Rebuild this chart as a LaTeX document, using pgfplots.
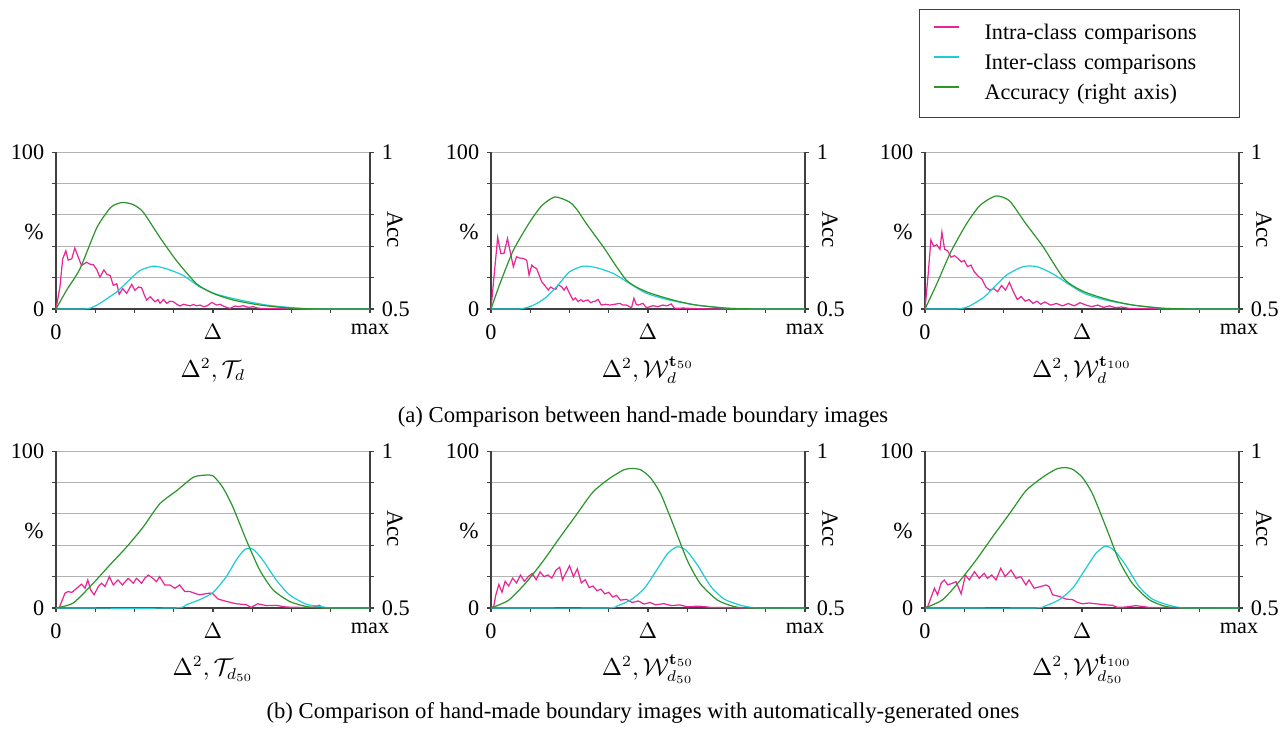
\documentclass[border=0pt]{standalone}
\usepackage[no-math]{fontspec}
\setmainfont{Liberation Serif}
\usepackage{amsmath}
\usepackage{pgfplots}
\pgfplotsset{compat=1.18}

\definecolor{intrac}{RGB}{232,38,150}
\definecolor{interc}{RGB}{32,204,212}
\definecolor{accc}{RGB}{44,150,44}

\pgfplotsset{
  panel/.style={scale only axis, width=141.3pt, height=70.6pt,
    xmin=0, xmax=8, xtick={0,1,2,3,4,5,6,7,8}, clip=false,
    tick align=outside, major tick length=1.8pt,
    axis line style={black!75, line width=0.5pt},
    tick style={black!75, line width=0.5pt},
    tick label style={font=\fontsize{10}{12}\selectfont},
    xticklabel style={yshift=-1.6pt},
    anchor=south west},
  lft/.style={panel, ymin=0, ymax=100, ytick={0,20,40,60,80,100},
    yticklabels={0,,,,,100}, xticklabels={0,,,,$\Delta$,,,,max},
    axis x line*=bottom, axis y line*=left,
    ymajorgrids, grid style={black!30, line width=0.5pt}},
  rgt/.style={panel, ymin=0.5, ymax=1, ytick={0.5,0.6,0.7,0.8,0.9,1},
    yticklabels={0.5,,,,,1}, axis x line=none, axis y line*=right},
  pk/.style={color=intrac, line width=0.55pt},
  cy/.style={color=interc, line width=0.55pt, smooth, tension=0.4},
  gr/.style={color=accc, line width=0.55pt, smooth, tension=0.4},
}
\newcommand{\pct}{\node at (axis description cs:0,0.49) [xshift=-9.9pt] {\fontsize{10.4}{12}\selectfont\%};}
\newcommand{\acc}{\node at (axis description cs:1,0.506) [xshift=11.25pt, rotate=-90] {\fontsize{10.4}{12}\selectfont Acc};}
\newcommand{\sub}[1]{\node at (axis description cs:0.5,0) [yshift=-27.5pt] {\fontsize{10.5}{12}\selectfont #1};}

\begin{document}
\begin{tikzpicture}
\useasboundingbox (0pt,0pt) rectangle (577.35pt,328.95pt);

% ---------- row (a) ----------
\begin{axis}[lft, at={(25.2pt,189.9pt)}]
\addplot[pk] coordinates {(0,0)(0.1,14)(0.17,31.9)(0.25,37.1)(0.31,31.2)(0.4,31.9)(0.48,38.8)(0.57,32.9)(0.65,27.7)(0.78,29.8)(0.87,28.5)(0.95,28.3)(1.04,25)(1.12,20.3)(1.22,24.9)(1.3,22)(1.38,21.4)(1.46,15.1)(1.55,16.1)(1.61,9.4)(1.7,13)(1.8,9.9)(1.93,15.7)(2.01,11.9)(2.1,14)(2.18,13.6)(2.25,9)(2.31,5.7)(2.4,7.8)(2.52,4.6)(2.6,6)(2.65,3.6)(2.74,6.1)(2.82,3.6)(2.9,5)(2.99,4.6)(3.08,3)(3.16,1.9)(3.25,3)(3.33,2.5)(3.42,2)(3.5,2.9)(3.58,2)(3.67,2.5)(3.76,1.5)(3.84,1.9)(3.97,4.2)(4.09,2.5)(4.18,3)(4.26,1.9)(4.35,1)(4.43,0.4)(4.56,1.9)(4.65,1.5)(4.77,2.1)(4.9,1)(5.03,1.5)(5.1,0.8)(5.2,0.4)(5.54,0.4)(5.8,0.2)(6.2,0)(8,0)};
\addplot[cy] coordinates {(0,0)(0.7,0)(0.9,0.8)(1.12,3.6)(1.35,7.5)(1.55,10.9)(1.85,18)(2.14,24.5)(2.48,27.3)(2.82,25.6)(3.24,21.4)(3.67,14)(4.09,9.4)(4.69,5.7)(5.37,2.5)(6.05,0.8)(6.6,0)(8,0)};
\pct
\sub{$\Delta^2, \mathcal{T}_d$}
\end{axis}
\begin{axis}[rgt, at={(25.2pt,189.9pt)}]
\addplot[gr] coordinates {(0,0.5)(0.27,0.56)(0.61,0.628)(1.04,0.759)(1.38,0.822)(1.55,0.835)(1.72,0.8395)(1.97,0.8325)(2.22,0.809)(2.65,0.7275)(3.07,0.654)(3.58,0.5805)(4.01,0.5495)(4.52,0.5285)(5.2,0.5125)(6.05,0.502)(7,0.5)(8,0.5)};
\acc
\end{axis}

\begin{axis}[lft, at={(220.95pt,189.9pt)}]
\addplot[pk] coordinates {(0,0)(0.1,26.9)(0.17,45.6)(0.25,35.4)(0.33,35.4)(0.42,44.9)(0.48,37.5)(0.57,26.9)(0.65,33.3)(0.73,32.5)(0.82,32.2)(0.91,31.1)(0.97,21.6)(1.04,28)(1.1,26.5)(1.16,25.8)(1.22,22)(1.29,17.4)(1.37,15)(1.46,12.1)(1.52,14)(1.58,13.1)(1.65,12.5)(1.71,15.3)(1.8,14.2)(1.86,12)(1.92,14.2)(2.0,10)(2.09,5.7)(2.15,7)(2.22,4.7)(2.29,6)(2.35,4.7)(2.41,5.5)(2.47,5.7)(2.54,4)(2.6,4.7)(2.66,5)(2.73,6.1)(2.81,2.5)(2.92,3)(3.03,2.5)(3.15,3)(3.28,3.6)(3.36,2.5)(3.45,2.5)(3.58,0.8)(3.64,6.8)(3.7,3)(3.75,2.5)(3.87,3.6)(3.96,0.8)(4.05,1.5)(4.13,2.1)(4.25,1.5)(4.38,2.5)(4.48,2)(4.59,3.2)(4.68,0.4)(4.9,0.6)(5.06,0.4)(5.3,0.2)(5.65,0)(8,0)};
\addplot[cy] coordinates {(0,0)(0.7,0)(0.99,1.5)(1.2,4)(1.42,7.8)(1.7,15)(2.0,23.7)(2.35,27.3)(2.69,26.3)(3.11,22.7)(3.53,16.3)(3.96,10)(4.55,5.7)(5.23,2.5)(6.08,0.4)(6.8,0)(8,0)};
\pct
\sub{$\Delta^2, \mathcal{W}_d^{\mathbf{t}_{50}}$}
\end{axis}
\begin{axis}[rgt, at={(220.95pt,189.9pt)}]
\addplot[gr] coordinates {(0,0.5)(0.23,0.5815)(0.57,0.6875)(0.99,0.7775)(1.3,0.83)(1.63,0.857)(2.0,0.841)(2.2,0.815)(2.43,0.772)(2.86,0.698)(3.45,0.592)(3.96,0.555)(4.64,0.5285)(5.23,0.5125)(6.08,0.502)(7,0.5)(8,0.5)};
\acc
\end{axis}

\begin{axis}[lft, at={(416.25pt,189.9pt)},
  legend style={at={(1.003,1.911)}, anchor=north east, draw=black!75,
    line width=0.5pt, inner xsep=6.3pt, inner ysep=6.3pt,
    font=\fontsize{10}{12}\selectfont, row sep=4.5pt,
    nodes={inner sep=0pt, text width=108.4pt, text height=7pt, text depth=2pt},
    /tikz/every odd column/.append style={column sep=11.25pt}},
  legend cell align=left,
  legend image code/.code={\draw[#1] (0pt,3pt) -- (11.25pt,3pt);}]
\addplot[pk] coordinates {(0,0)(0.08,22)(0.15,44)(0.22,40)(0.3,41)(0.38,38)(0.43,49)(0.5,38)(0.58,37)(0.66,33)(0.75,34)(0.85,32)(0.93,30)(1.0,31)(1.08,27)(1.17,28)(1.25,24)(1.35,21)(1.45,19)(1.55,14)(1.65,12)(1.75,13)(1.85,11)(1.95,15)(2.05,12)(2.15,17)(2.25,11)(2.35,6)(2.45,8)(2.55,5)(2.65,6)(2.75,3.5)(2.85,5)(2.95,3)(3.05,4.5)(3.2,2.5)(3.35,3.5)(3.5,2)(3.65,3.5)(3.8,2)(3.95,4)(4.1,2.5)(4.25,1.5)(4.4,2.5)(4.55,1)(4.7,2)(4.85,0.8)(5.0,1.3)(5.2,0.4)(5.6,0.4)(6,0)(8,0)};
\addplot[cy] coordinates {(0,0)(0.8,0)(1.1,1.5)(1.5,7.5)(1.8,15)(2.1,22)(2.5,27)(2.85,27)(3.25,22.5)(3.65,16)(4.05,10)(4.6,5.7)(5.3,2.5)(6.1,0.4)(7,0)(8,0)};
\addlegendimage{color=accc, line width=0.55pt}
\legend{Intra-class comparisons, Inter-class comparisons, Accuracy (right axis)}
\pct
\sub{$\Delta^2, \mathcal{W}_d^{\mathbf{t}_{100}}$}
\end{axis}
\begin{axis}[rgt, at={(416.25pt,189.9pt)}]
\addplot[gr] coordinates {(0,0.5)(0.3,0.58)(0.65,0.68)(1.05,0.77)(1.4,0.83)(1.8,0.86)(2.15,0.845)(2.55,0.775)(3.0,0.7)(3.55,0.595)(4.05,0.555)(4.7,0.5285)(5.3,0.5125)(6.1,0.502)(7,0.5)(8,0.5)};
\acc
\end{axis}

% ---------- row (b) ----------
\begin{axis}[lft, at={(25.2pt,55.35pt)}]
\addplot[pk] coordinates {(0,0)(0.08,0)(0.23,9.5)(0.31,10.5)(0.4,9.9)(0.53,12.6)(0.65,15.2)(0.74,12.6)(0.81,17.9)(0.88,11.6)(0.97,8.4)(1.08,13.7)(1.16,15.8)(1.25,13.7)(1.36,20)(1.46,14.7)(1.58,17.9)(1.69,14.7)(1.84,18.9)(1.97,15.8)(2.05,18.9)(2.18,15.8)(2.26,18.9)(2.35,21)(2.47,18.9)(2.56,16.8)(2.64,20)(2.77,14.7)(2.9,14.7)(3.03,12.6)(3.15,14.7)(3.28,10.5)(3.41,10.5)(3.58,9)(3.66,8.4)(3.79,9)(3.92,9.5)(4.0,9)(4.13,5.7)(4.34,4.2)(4.59,2.7)(4.85,2.1)(4.97,0.4)(5.14,2.7)(5.36,1.5)(5.61,1.7)(5.86,0.6)(6.2,0.4)(6.54,0.4)(6.71,1.7)(6.8,0)(8,0)};
\addplot[cy] coordinates {(0,0)(2.98,0)(3.32,2.1)(3.66,5.3)(4.0,9.9)(4.34,20)(4.59,30.5)(4.81,37.3)(5.02,37.5)(5.27,30.5)(5.61,17.9)(5.95,8.4)(6.37,2.5)(6.71,1)(7.05,0)(8,0)};
\pct
\sub{$\Delta^2, \mathcal{T}_{d_{50}}$}
\end{axis}
\begin{axis}[rgt, at={(25.2pt,55.35pt)}]
\addplot[gr] coordinates {(0,0.5)(0.44,0.516)(0.95,0.579)(1.37,0.637)(1.8,0.6945)(2.22,0.758)(2.64,0.8315)(3.07,0.8735)(3.49,0.916)(3.75,0.923)(4.0,0.921)(4.25,0.884)(4.51,0.821)(4.85,0.716)(5.19,0.621)(5.53,0.558)(5.95,0.521)(6.37,0.505)(6.8,0.5)(8,0.5)};
\acc
\end{axis}

\begin{axis}[lft, at={(220.95pt,55.35pt)}]
\addplot[pk] coordinates {(0,0)(0.07,1)(0.12,8)(0.2,15)(0.28,10)(0.36,17)(0.45,14)(0.55,19)(0.65,16)(0.75,21)(0.85,17)(0.95,20)(1.05,22)(1.15,18)(1.25,23)(1.35,20)(1.45,21)(1.55,19)(1.65,24)(1.75,26)(1.82,18)(1.9,22)(2.0,27)(2.1,20)(2.2,25)(2.3,16)(2.4,18)(2.5,13)(2.6,14)(2.7,11)(2.8,12)(2.9,9)(3.0,10)(3.1,7)(3.2,8)(3.3,5)(3.45,5.5)(3.6,3.5)(3.75,4.5)(3.9,2.5)(4.05,3.5)(4.2,2)(4.4,2.8)(4.6,1.5)(4.8,2)(5.0,0.8)(5.3,1.2)(5.6,0.4)(6.0,0.3)(6.4,0)(8,0)};
\addplot[cy] coordinates {(0,0)(2.9,0)(3.23,1.5)(3.57,5.3)(3.91,12.6)(4.25,25.3)(4.5,34.7)(4.74,39)(4.97,36.8)(5.26,27.4)(5.6,13.7)(5.94,5.7)(6.37,1.7)(6.8,0)(8,0)};
\pct
\sub{$\Delta^2, \mathcal{W}_{d_{50}}^{\mathbf{t}_{50}}$}
\end{axis}
\begin{axis}[rgt, at={(220.95pt,55.35pt)}]
\addplot[gr] coordinates {(0,0.5)(0.45,0.525)(0.9,0.582)(1.33,0.65)(1.75,0.724)(2.18,0.798)(2.6,0.87)(3.02,0.913)(3.38,0.94)(3.6,0.945)(3.82,0.94)(4.07,0.914)(4.33,0.862)(4.67,0.757)(5.0,0.652)(5.33,0.578)(5.76,0.526)(6.18,0.505)(6.6,0.5)(8,0.5)};
\acc
\end{axis}

\begin{axis}[lft, at={(416.25pt,55.35pt)}]
\addplot[pk] coordinates {(0,0)(0.07,1)(0.24,12.6)(0.32,8.4)(0.41,15.8)(0.49,17.9)(0.58,14.7)(0.7,15.8)(0.79,16.8)(0.92,9)(1.03,21)(1.13,17.9)(1.26,23.2)(1.38,18.9)(1.51,22.1)(1.59,18.9)(1.7,21)(1.81,17.9)(1.93,25.3)(2.04,20)(2.19,24.2)(2.32,18.9)(2.44,20)(2.57,14.7)(2.65,17.9)(2.78,12.6)(2.95,13.7)(3.08,14.7)(3.16,13.7)(3.25,8.4)(3.42,7.4)(3.59,5.7)(3.76,5.3)(3.88,3.6)(4.01,2.7)(4.18,3.2)(4.35,2.7)(4.56,2.1)(4.78,1.7)(4.9,0.4)(5.11,0.6)(5.37,1.5)(5.71,0.4)(6.13,0.4)(6.47,0)(8,0)};
\addplot[cy] coordinates {(0,0)(2.74,0)(3.08,1.5)(3.42,5.3)(3.76,12.6)(4.1,25.3)(4.35,34.7)(4.59,39.4)(4.82,36.8)(5.11,27.4)(5.45,13.7)(5.79,5.7)(6.22,1.7)(6.64,0)(8,0)};
\pct
\sub{$\Delta^2, \mathcal{W}_{d_{50}}^{\mathbf{t}_{100}}$}
\end{axis}
\begin{axis}[rgt, at={(416.25pt,55.35pt)}]
\addplot[gr] coordinates {(0,0.5)(0.45,0.5265)(0.87,0.584)(1.3,0.6525)(1.72,0.7265)(2.15,0.8)(2.57,0.8735)(2.99,0.916)(3.33,0.942)(3.55,0.9475)(3.76,0.942)(4.01,0.916)(4.27,0.863)(4.61,0.758)(4.94,0.6525)(5.28,0.579)(5.71,0.5265)(6.13,0.505)(6.56,0.5)(8,0.5)};
\acc
\end{axis}

\node at (289.35pt,141.3pt) {\fontsize{10.2}{12}\selectfont (a) Comparison between hand-made boundary images};
\node at (289.35pt,8.1pt) {\fontsize{10.2}{12}\selectfont (b) Comparison of hand-made boundary images with automatically-generated ones};
\end{tikzpicture}
\end{document}
